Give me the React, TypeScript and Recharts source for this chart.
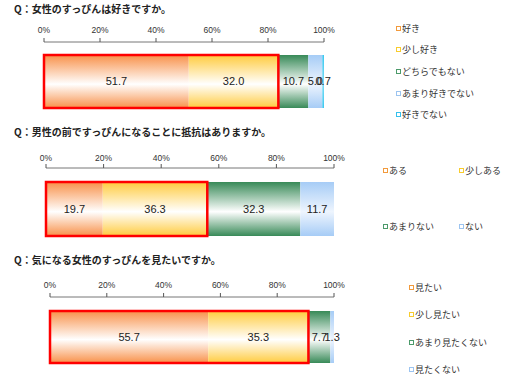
import { BarChart, Bar, XAxis, YAxis, ReferenceArea, LabelList, Legend } from 'recharts'

const percentTicks = [0, 20, 40, 60, 80, 100]

const q1Title = 'Q：女性のすっぴんは好きですか。'
const q1Labels = ['好き', '少し好き', 'どちらでもない', 'あまり好きでない', '好きでない']
const q1Values = [51.7, 32.0, 10.7, 5.0, 0.7]

const q2Title = 'Q：男性の前ですっぴんになることに抵抗はありますか。'
const q2Labels = ['ある', '少しある', 'あまりない', 'ない']
const q2Values = [19.7, 36.3, 32.3, 11.7]

const q3Title = 'Q：気になる女性のすっぴんを見たいですか。'
const q3Labels = ['見たい', '少し見たい', 'あまり見たくない', '見たくない']
const q3Values = [55.7, 35.3, 7.7, 1.3]

// edge colour, centre colour, legend icon colour
const palette = [
  { key: 'orange', edge: '#F8914A', mid: '#FFFFFF', icon: '#F29A3C' },
  { key: 'yellow', edge: '#FFCB3E', mid: '#FFFFFF', icon: '#F8CC2E' },
  { key: 'green', edge: '#388A58', mid: '#FFFFFF', icon: '#4C9A6A' },
  { key: 'blue', edge: '#A6CCF6', mid: '#EEF5FE', icon: '#9CC4F0' },
  { key: 'cyan', edge: '#3CC8F0', mid: '#7ADCF6', icon: '#35C0EC' },
]

const jpFont = '"Noto Sans CJK JP", "Noto Sans", sans-serif'

type LegendLayout = { x: number; y: number; colStep: number; rowStep: number; cols: number }

type ChartProps = {
  id: string
  title: string
  labels: string[]
  values: number[]
  top: number
  height: number
  titleY: number
  plotLeft: number
  plotRight: number
  axisY: number
  barTop: number
  barBottom: number
  tickMargin: number
  legend: LegendLayout
}

function StackChart(p: ChartProps) {
  const row: Record<string, string | number> = { name: 'q' }
  p.values.forEach((v, i) => {
    row['s' + i] = v
  })
  const data = [row]
  const axisHeight = 20

  const renderLegend = (props: any) => {
    const items = (props.payload || []) as any[]
    return (
      <div style={{ position: 'relative', width: 520, height: p.height }}>
        {items.map((it) => {
          const i = p.labels.indexOf(it.value)
          const col = i % p.legend.cols
          const r = Math.floor(i / p.legend.cols)
          return (
            <div
              key={it.value}
              style={{
                position: 'absolute',
                left: p.legend.x + col * p.legend.colStep,
                top: p.legend.y + r * p.legend.rowStep - 7,
                height: 14,
                display: 'flex',
                alignItems: 'center',
                fontFamily: jpFont,
                fontSize: 9,
                color: '#333',
                whiteSpace: 'nowrap',
              }}
            >
              <span
                style={{
                  display: 'inline-block',
                  width: 3,
                  height: 3,
                  border: `1.5px solid ${palette[i].icon}`,
                  background: '#fff',
                  marginRight: 1,
                }}
              />
              {it.value}
            </div>
          )
        })}
      </div>
    )
  }

  return (
    <div style={{ position: 'absolute', left: 0, top: p.top, width: 520, height: p.height }}>
      <div
        style={{
          position: 'absolute',
          left: 14,
          top: p.titleY - 7,
          fontFamily: jpFont,
          fontSize: 10,
          fontWeight: 'bold',
          color: '#222',
          lineHeight: '14px',
          whiteSpace: 'nowrap',
        }}
      >
        {p.title}
      </div>
      <BarChart
        width={520}
        height={p.height}
        data={data}
        layout="vertical"
        barCategoryGap={0}
        barGap={0}
        margin={{
          top: p.axisY - axisHeight,
          bottom: p.height - p.barBottom,
          left: p.plotLeft,
          right: 520 - p.plotRight,
        }}
      >
        <defs>
          {palette.map((c) => (
            <linearGradient key={c.key} id={`${p.id}-${c.key}`} x1="0" y1="0" x2="0" y2="1">
              <stop offset="0%" stopColor={c.edge} />
              <stop offset="55%" stopColor={c.mid} />
              <stop offset="100%" stopColor={c.edge} />
            </linearGradient>
          ))}
        </defs>
        <XAxis
          type="number"
          orientation="top"
          domain={[0, 100]}
          allowDataOverflow
          ticks={percentTicks}
          tickFormatter={(v: number) => `${v}%`}
          height={axisHeight}
          tickSize={4}
          tickMargin={p.tickMargin}
          axisLine={{ stroke: '#777' }}
          tickLine={{ stroke: '#555' }}
          tick={{ fontSize: 8.5, fill: '#333', fontFamily: '"Liberation Sans", Arial, sans-serif' }}
        />
        <YAxis type="category" dataKey="name" hide padding={{ top: p.barTop - p.axisY, bottom: 0 }} />
        {p.labels.map((label, i) => (
          <Bar
            key={label}
            dataKey={'s' + i}
            name={label}
            stackId="a"
            fill={`url(#${p.id}-${palette[i].key})`}
            isAnimationActive={false}
          >
            <LabelList
              dataKey={'s' + i}
              position="center"
              formatter={(v: any) => Number(v).toFixed(1)}
              style={{ fontSize: 11, fill: '#222', fontFamily: '"Liberation Sans", Arial, sans-serif' }}
            />
          </Bar>
        ))}
        <ReferenceArea
          x1={0}
          x2={p.values[0] + p.values[1]}
          fill="none"
          fillOpacity={0}
          stroke="#FF0000"
          strokeWidth={2.5}
          ifOverflow="visible"
          zIndex={1500}
        />
        <Legend
          layout="horizontal"
          verticalAlign="middle"
          align="center"
          content={renderLegend}
          wrapperStyle={{ left: 0, top: 0, width: 520, height: p.height }}
        />
      </BarChart>
    </div>
  )
}

export default function App() {
  return (
    <div style={{ position: 'fixed', left: 0, top: 0, width: 520, height: 381, background: '#fff' }}>
      <StackChart
        id="c1"
        title={q1Title}
        labels={q1Labels}
        values={q1Values}
        top={0}
        height={118}
        titleY={9}
        plotLeft={44}
        plotRight={324}
        axisY={42}
        barTop={55}
        barBottom={108}
        tickMargin={5}
        legend={{ x: 396, y: 28, colStep: 0, rowStep: 21.7, cols: 1 }}
      />
      <StackChart
        id="c2"
        title={q2Title}
        labels={q2Labels}
        values={q2Values}
        top={120}
        height={125}
        titleY={12}
        plotLeft={46}
        plotRight={334}
        axisY={48}
        barTop={62}
        barBottom={116}
        tickMargin={3}
        legend={{ x: 383, y: 50, colStep: 76, rowStep: 56, cols: 2 }}
      />
      <StackChart
        id="c3"
        title={q3Title}
        labels={q3Labels}
        values={q3Values}
        top={250}
        height={131}
        titleY={10}
        plotLeft={50}
        plotRight={334}
        axisY={47}
        barTop={61}
        barBottom={113}
        tickMargin={5}
        legend={{ x: 409, y: 37, colStep: 0, rowStep: 27.5, cols: 1 }}
      />
    </div>
  )
}
